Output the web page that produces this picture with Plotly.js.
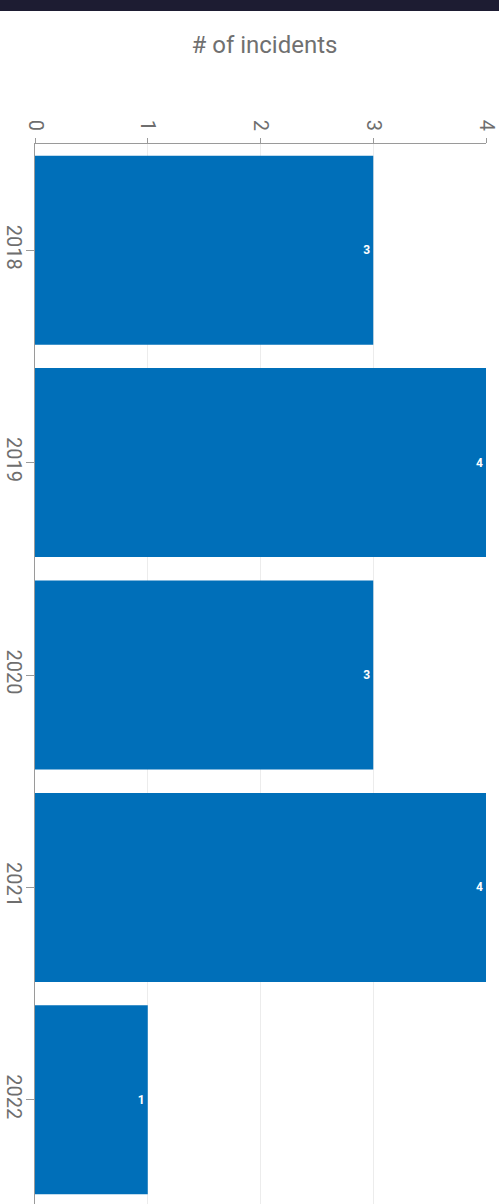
<!DOCTYPE html>
<html>
<head>
<meta charset="utf-8">
<script src="https://cdn.plot.ly/plotly-3.0.1.min.js"></script>
<style>
  html, body { margin: 0; padding: 0; background: #ffffff; overflow: hidden; }
  #topbar { position: absolute; left: 0; top: 0; width: 499px; height: 11px; background: #1d1c32; z-index: 5; }
  #chart { width: 499px; height: 1206px; }
</style>
</head>
<body>
<div id="topbar"></div>
<div id="chart"></div>
<script>
// Incidents per year
const years = ['2018', '2019', '2020', '2021', '2022'];
const incidents = [3, 4, 3, 4, 1];
const xTicks = [0, 1, 2, 3, 4];

const trace = {
  type: 'bar',
  orientation: 'h',
  y: years,
  x: incidents,
  text: incidents.map(String),
  textposition: 'inside',
  insidetextanchor: 'end',
  textangle: 0,
  textfont: { family: 'Roboto, sans-serif', size: 12, color: '#ffffff', weight: 'bold' },
  marker: { color: '#006fb9' },
  hoverinfo: 'none'
};

const layout = {
  width: 499,
  height: 1206,
  margin: { l: 35, r: 13, t: 144, b: 0 },
  paper_bgcolor: '#ffffff',
  plot_bgcolor: '#ffffff',
  font: { family: 'Roboto, sans-serif', color: '#6e6e6e' },
  bargap: 0.11,
  showlegend: false,
  title: {
    text: '# of incidents',
    font: { family: 'Roboto, sans-serif', size: 24, color: '#707070' },
    x: 0.53, xanchor: 'center',
    y: 1 - 45 / 1206, yanchor: 'middle', yref: 'container'
  },
  xaxis: {
    side: 'top',
    range: [0, 4],
    tickvals: xTicks,
    ticktext: xTicks.map(String),
    tickangle: 90,
    ticks: 'outside',
    ticklen: 5,
    tickcolor: '#9a9a9a',
    showline: true,
    linecolor: '#9a9a9a',
    linewidth: 1,
    showgrid: true,
    gridcolor: '#ececec',
    zeroline: false,
    tickfont: { family: 'Roboto, sans-serif', size: 20, color: '#6e6e6e' }
  },
  yaxis: {
    type: 'category',
    categoryorder: 'array',
    categoryarray: years,
    autorange: 'reversed',
    tickangle: 90,
    ticks: 'outside',
    ticklen: 8,
    tickcolor: '#9a9a9a',
    ticklabelstandoff: -5,
    showline: true,
    linecolor: '#9a9a9a',
    linewidth: 1,
    showgrid: false,
    zeroline: false,
    tickfont: { family: 'Roboto, sans-serif', size: 20, color: '#6e6e6e' }
  }
};

Plotly.newPlot('chart', [trace], layout, { displayModeBar: false, staticPlot: true });
</script>
</body>
</html>
